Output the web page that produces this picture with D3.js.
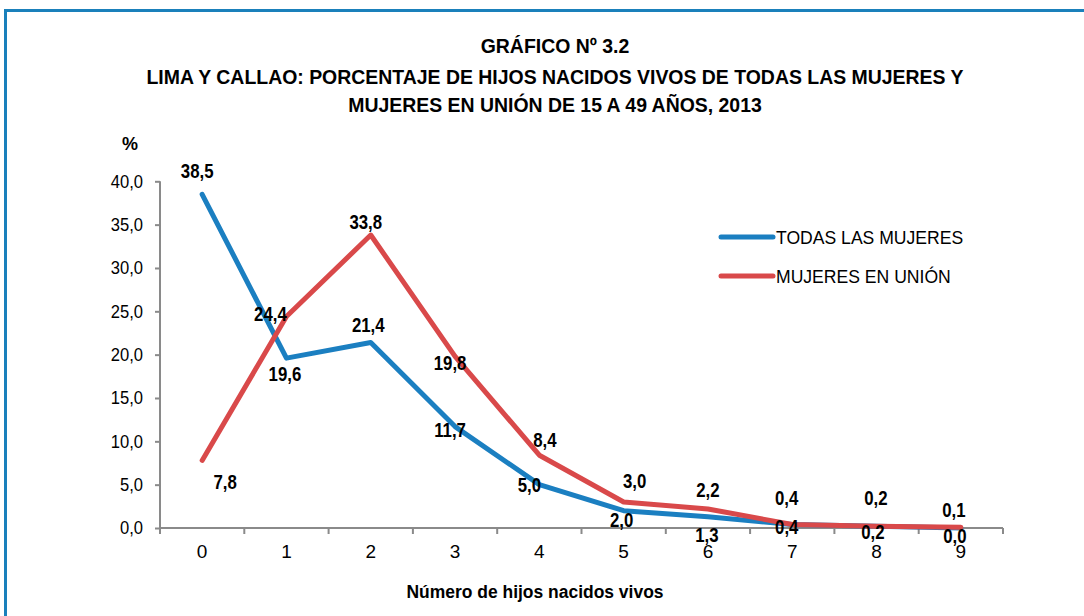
<!DOCTYPE html>
<html>
<head>
<meta charset="utf-8">
<script src="https://cdn.jsdelivr.net/npm/d3@7"></script>
<style>
  html, body { margin: 0; padding: 0; background: #fff; }
  svg { display: block; }
  text { font-family: "Liberation Sans", Arial, sans-serif; }
</style>
</head>
<body>
<svg id="chart" width="1084" height="616"></svg>
<script>
// ---- data ----
const categories = ["0", "1", "2", "3", "4", "5", "6", "7", "8", "9"];
const todasLasMujeres = [38.5, 19.6, 21.4, 11.7, 5.0, 2.0, 1.3, 0.4, 0.2, 0.0];
const mujeresEnUnion = [7.8, 24.4, 33.8, 19.8, 8.4, 3.0, 2.2, 0.4, 0.2, 0.1];
const seriesNames = ["TODAS LAS MUJERES", "MUJERES EN UNIÓN"];
const yTicks = [0, 5, 10, 15, 20, 25, 30, 35, 40];
const titleLines = [
  "GRÁFICO Nº 3.2",
  "LIMA Y CALLAO: PORCENTAJE DE HIJOS NACIDOS VIVOS DE TODAS LAS MUJERES Y",
  "MUJERES EN UNIÓN DE 15 A 49 AÑOS, 2013"
];
const xTitle = "Número de hijos nacidos vivos";
const yUnit = "%";

// ---- layout (label offsets relative to each point, in px) ----
const blueLabelOffsets = [[-5,-16],[-1.5,22.6],[-2.5,-11],[-5,10],[-10,7],[-2,16],[-1,25],[-5.5,9.5],[-3.6,12.7],[-6,14.7]];
const redLabelOffsets  = [[23,29],[-16,4],[-5,-6],[-5,14],[5.6,-8],[11,-14],[0,-11.6],[-5.6,-19.5],[-0.6,-21],[-7,-10]];

const colors = ["#1b7fc1", "#d9494a"];
const svg = d3.select("#chart");

// squeeze helper: emulate a condensed face
function squeeze(sel, f) {
  sel.each(function () {
    const w = this.getComputedTextLength();
    this.setAttribute("textLength", (w * f).toFixed(2));
    this.setAttribute("lengthAdjust", "spacingAndGlyphs");
  });
}

// border
svg.append("path")
  .attr("d", "M5.5,616 L5.5,10.5 L1084,10.5")
  .attr("fill", "none").attr("stroke", "#1a80bb").attr("stroke-width", 3);

const pLeft = 160, pRight = 1003, pTop = 181.3, pBottom = 528;
const x = d3.scaleBand().domain(categories).range([pLeft, pRight]);
const y = d3.scaleLinear().domain([0, 40]).range([pBottom, pTop]);
const fmt = v => d3.format(".1f")(v).replace(".", ",");

// title
const title = svg.append("g").selectAll("text").data(titleLines).join("text")
  .attr("x", 555).attr("y", (d, i) => [53, 84, 112][i])
  .attr("text-anchor", "middle").attr("font-weight", "bold").attr("font-size", 21)
  .attr("fill", "#000").text(d => d);
const tw = title.nodes()[1].getComputedTextLength();
squeeze(title, 817 / tw);

// y axis
const yAxis = svg.append("g").attr("transform", `translate(${pLeft},0)`)
  .call(d3.axisLeft(y).tickValues(yTicks).tickFormat(fmt).tickSize(5).tickPadding(12));
yAxis.select(".domain").attr("stroke", "#8a8a8a").attr("stroke-width", 2).attr("d", `M0,${pTop}V${pBottom}`);
yAxis.selectAll(".tick line").attr("stroke", "#8a8a8a").attr("stroke-width", 2);
yAxis.selectAll(".tick text").attr("font-size", 18).attr("fill", "#000")
  .style("font-family", '"Liberation Sans", Arial, sans-serif');
squeeze(yAxis.selectAll(".tick text"), 0.92);

// x axis
const xAxis = svg.append("g").attr("transform", `translate(0,${pBottom})`)
  .call(d3.axisBottom(x).tickSize(0).tickPadding(17));
xAxis.select(".domain").attr("stroke", "#8a8a8a").attr("stroke-width", 2).attr("d", `M${pLeft},0H${pRight}`);
xAxis.selectAll(".tick text").attr("font-size", 19).attr("fill", "#000")
  .style("font-family", '"Liberation Sans", Arial, sans-serif');
// boundary ticks
const bounds = categories.map(c => x(c)).concat([pRight]);
xAxis.selectAll("line.bt").data(bounds).join("line").attr("class", "bt")
  .attr("x1", d => d).attr("x2", d => d).attr("y1", 0).attr("y2", 6)
  .attr("stroke", "#8a8a8a").attr("stroke-width", 2);

// lines
const line = d3.line().x((d, i) => x(categories[i]) + x.bandwidth() / 2).y(d => y(d));
[todasLasMujeres, mujeresEnUnion].forEach((s, k) => {
  svg.append("path").datum(s).attr("d", line).attr("fill", "none")
    .attr("stroke", colors[k]).attr("stroke-width", 5)
    .attr("stroke-linejoin", "round").attr("stroke-linecap", "round");
});

// data labels
[[todasLasMujeres, blueLabelOffsets], [mujeresEnUnion, redLabelOffsets]].forEach(([s, offs]) => {
  const lab = svg.append("g").selectAll("text").data(s).join("text")
    .attr("x", (d, i) => x(categories[i]) + x.bandwidth() / 2 + offs[i][0])
    .attr("y", (d, i) => y(d) + offs[i][1])
    .attr("text-anchor", "middle").attr("font-weight", "bold").attr("font-size", 20)
    .attr("fill", "#000").text(d => fmt(d));
  squeeze(lab, 0.84);
});

// y unit
svg.append("text").attr("x", 130).attr("y", 150).attr("text-anchor", "middle")
  .attr("font-weight", "bold").attr("font-size", 18).text(yUnit);

// x title
const xt = svg.append("text").attr("x", 535).attr("y", 598).attr("text-anchor", "middle")
  .attr("font-weight", "bold").attr("font-size", 18).text(xTitle);
squeeze(xt, 257 / xt.node().getComputedTextLength());

// legend
const legend = svg.append("g").selectAll("g").data(seriesNames).join("g")
  .attr("transform", (d, i) => `translate(721,${237 + i * 39})`);
legend.append("line").attr("x1", 0).attr("x2", 52).attr("y1", 0).attr("y2", 0)
  .attr("stroke", (d, i) => colors[i]).attr("stroke-width", 5).attr("stroke-linecap", "round");
legend.append("text").attr("x", 55).attr("y", 6.5).attr("font-size", 18.5).attr("fill", "#000").text(d => d);
squeeze(legend.selectAll("text"), 0.95);
</script>
</body>
</html>
